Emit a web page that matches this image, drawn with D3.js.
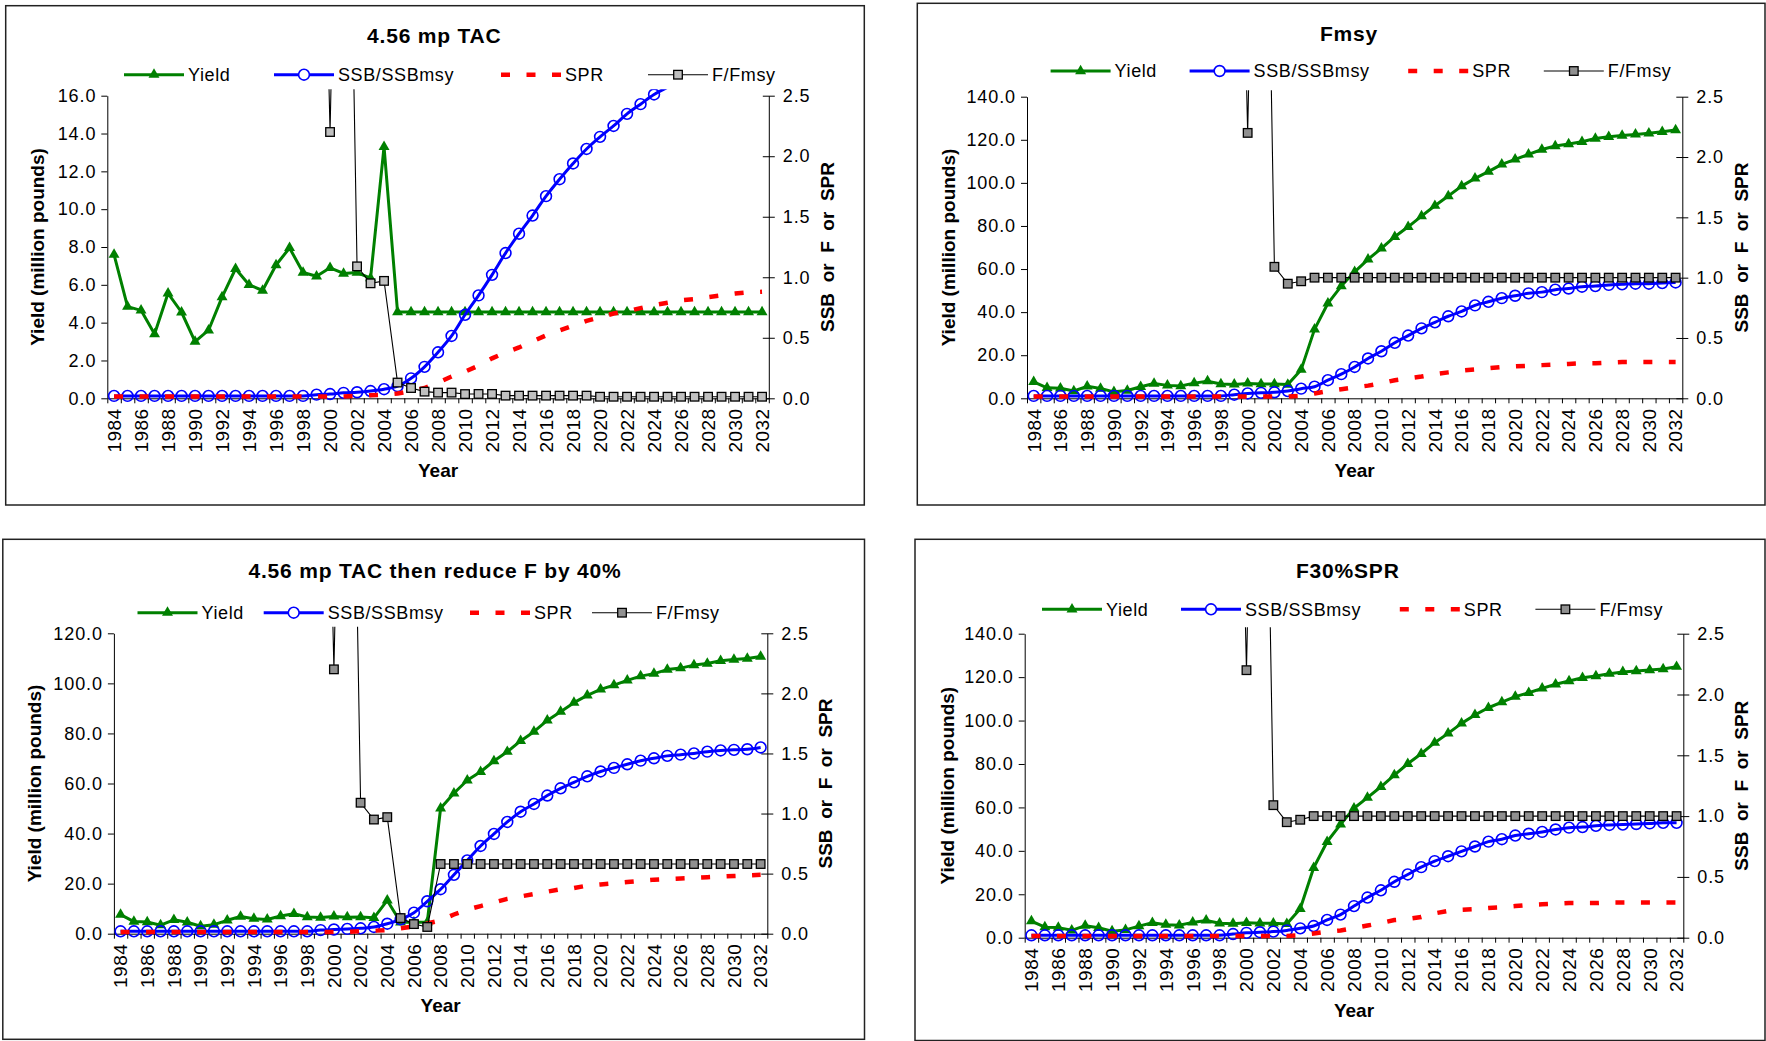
<!DOCTYPE html>
<html>
<head>
<meta charset="utf-8">
<script src="https://cdn.jsdelivr.net/npm/d3@7"></script>
<style>
  html, body { margin: 0; padding: 0; background: #fff; }
  svg { display: block; font-family: Arial, "Liberation Sans", sans-serif; }
</style>
</head>
<body>
<svg id="chart" width="1766" height="1041"></svg>
<script>
// ---------------- DATA ----------------
const years = [1984,1985,1986,1987,1988,1989,1990,1991,1992,1993,1994,1995,1996,1997,1998,1999,
  2000,2001,2002,2003,2004,2005,2006,2007,2008,2009,2010,2011,2012,2013,2014,2015,2016,2017,
  2018,2019,2020,2021,2022,2023,2024,2025,2026,2027,2028,2029,2030,2031,2032];

const seriesNames = ["Yield", "SSB/SSBmsy", "SPR", "F/Fmsy"];
const panelTitles = ["4.56 mp TAC", "Fmsy", "4.56 mp TAC then reduce F by 40%", "F30%SPR"];

// historical yield 1984-2004 (million pounds)
const yieldHist = [7.6,4.85,4.65,3.4,5.55,4.55,3.0,3.6,5.35,6.85,6.0,5.7,7.05,7.95,6.65,6.45,6.9,6.6,6.65,6.35,13.3];
// historical F/Fmsy 1984-2004 (values before 2000 and 2001 are far above the axis)
const fHist = [6.5,6.8,7.2,7.0,6.4,6.9,7.5,7.1,6.6,6.3,6.8,7.0,6.7,6.2,6.9,7.0,2.2,7.5,1.09,0.95,0.97];

// Panel 1: 4.56 mp TAC  (projection 2005-2032)
const yield1 = [4.56,4.56,4.56,4.56,4.56,4.56,4.56,4.56,4.56,4.56,4.56,4.56,4.56,4.56,4.56,4.56,4.56,4.56,4.56,4.56,4.56,4.56,4.56,4.56,4.56,4.56,4.56,4.56];
const ssb1 = [0.02,0.02,0.02,0.02,0.02,0.02,0.02,0.02,0.02,0.02,0.02,0.02,0.02,0.02,0.02,
  0.03,0.035,0.045,0.05,0.06,0.075,0.1,0.165,0.26,0.38,0.515,0.69,0.85,1.02,1.2,1.36,1.51,1.67,
  1.81,1.94,2.06,2.16,2.25,2.35,2.43,2.51,2.57,2.64,2.70,2.76,2.81,2.86,2.90,2.94];
const spr1 = [0.015,0.015,0.015,0.015,0.015,0.015,0.015,0.015,0.015,0.015,0.015,0.015,0.015,0.015,0.015,
  0.015,0.015,0.015,0.02,0.025,0.03,0.04,0.06,0.085,0.13,0.18,0.22,0.27,0.33,0.38,0.42,0.47,0.52,
  0.56,0.60,0.64,0.67,0.70,0.72,0.745,0.77,0.79,0.81,0.82,0.835,0.85,0.865,0.875,0.88];
const f1 = [0.13,0.085,0.055,0.047,0.047,0.035,0.036,0.036,0.022,0.022,0.022,0.022,0.022,0.022,0.022,
  0.013,0.013,0.013,0.013,0.013,0.013,0.013,0.013,0.013,0.013,0.013,0.013,0.013];

// Panel 2: Fmsy
const yield2 = [32.0,44.1,52.1,58.7,64.5,69.6,75.0,79.6,84.6,89.4,93.9,98.5,102.1,105.2,108.6,110.9,
  113.2,115.5,117.1,118.0,119.1,120.6,121.4,122.0,122.5,123.0,123.7,124.5];
const ssb2 = [0.02,0.02,0.02,0.02,0.02,0.02,0.02,0.02,0.02,0.02,0.02,0.02,0.02,0.02,0.02,
  0.03,0.04,0.045,0.05,0.06,0.08,0.096,0.15,0.2,0.26,0.33,0.39,0.46,0.52,0.58,0.63,0.68,0.72,
  0.77,0.8,0.83,0.85,0.87,0.88,0.9,0.91,0.925,0.93,0.94,0.945,0.95,0.95,0.955,0.96];
const spr2 = [0.015,0.015,0.015,0.015,0.015,0.015,0.015,0.015,0.015,0.015,0.015,0.015,0.015,0.015,0.015,
  0.015,0.015,0.015,0.015,0.015,0.02,0.04,0.06,0.075,0.09,0.105,0.125,0.15,0.165,0.18,0.2,0.215,0.23,
  0.24,0.25,0.26,0.265,0.27,0.275,0.28,0.285,0.29,0.29,0.295,0.3,0.3,0.3,0.3,0.3];
const f2 = [1.0,1.0,1.0,1.0,1.0,1.0,1.0,1.0,1.0,1.0,1.0,1.0,1.0,1.0,1.0,1.0,1.0,1.0,1.0,1.0,1.0,1.0,1.0,1.0,1.0,1.0,1.0,1.0];

// Panel 3: 4.56 mp TAC then reduce F by 40%
const yield3 = [4.56,4.56,4.56,50.1,56.1,61.3,64.7,69.0,72.7,77.0,80.7,85.2,88.7,92.3,95.2,97.6,
  99.3,101.2,102.9,103.9,105.5,106.1,107.3,107.9,109.0,109.5,109.9,110.7];
const ssb3 = [0.02,0.02,0.02,0.02,0.02,0.02,0.02,0.02,0.02,0.02,0.02,0.02,0.02,0.02,0.02,
  0.03,0.035,0.04,0.045,0.056,0.083,0.12,0.175,0.27,0.37,0.49,0.61,0.73,0.83,0.93,1.015,1.08,1.15,
  1.21,1.26,1.31,1.35,1.38,1.41,1.44,1.46,1.48,1.49,1.5,1.515,1.525,1.53,1.535,1.55];
const spr3 = [0.015,0.015,0.015,0.015,0.015,0.015,0.015,0.015,0.015,0.015,0.015,0.015,0.015,0.015,0.015,
  0.015,0.015,0.015,0.02,0.025,0.03,0.045,0.06,0.085,0.11,0.16,0.2,0.23,0.26,0.29,0.31,0.33,0.35,
  0.37,0.38,0.4,0.41,0.42,0.43,0.44,0.45,0.455,0.46,0.465,0.47,0.475,0.48,0.485,0.49];
const f3 = [0.13,0.08,0.056,0.58,0.58,0.58,0.58,0.58,0.58,0.58,0.58,0.58,0.58,0.58,0.58,0.58,0.58,
  0.58,0.58,0.58,0.58,0.58,0.58,0.58,0.58,0.58,0.58,0.58];

// Panel 4: F30%SPR
const yield4 = [32.2,44.2,52.2,59.6,64.5,69.5,74.9,80.1,84.7,89.8,94.1,98.7,102.6,105.9,108.5,111.0,
  112.8,114.8,116.7,118.2,119.7,120.5,121.6,122.4,122.8,123.3,123.7,124.8];
const ssb4 = [0.02,0.02,0.02,0.02,0.02,0.02,0.02,0.02,0.02,0.02,0.02,0.02,0.02,0.02,0.02,
  0.03,0.04,0.045,0.05,0.06,0.077,0.096,0.146,0.19,0.26,0.33,0.39,0.46,0.52,0.58,0.63,0.67,0.71,
  0.75,0.79,0.81,0.84,0.855,0.87,0.89,0.905,0.91,0.92,0.927,0.93,0.935,0.94,0.945,0.945];
const spr4 = [0.015,0.015,0.015,0.015,0.015,0.015,0.015,0.015,0.015,0.015,0.015,0.015,0.015,0.015,0.015,
  0.015,0.015,0.015,0.015,0.015,0.02,0.035,0.05,0.06,0.08,0.1,0.12,0.145,0.155,0.17,0.2,0.22,0.23,
  0.235,0.245,0.25,0.26,0.27,0.275,0.28,0.285,0.285,0.285,0.29,0.29,0.29,0.29,0.29,0.29];
const f4 = [1.0,1.0,1.0,1.0,1.0,1.0,1.0,1.0,1.0,1.0,1.0,1.0,1.0,1.0,1.0,1.0,1.0,1.0,1.0,1.0,1.0,1.0,1.0,1.0,1.0,1.0,1.0,1.0];

// axis tick values
const leftTicks16 = [0,2,4,6,8,10,12,14,16];
const leftTicks140 = [0,20,40,60,80,100,120,140];
const leftTicks120 = [0,20,40,60,80,100,120];
const rightTicks = [0,0.5,1.0,1.5,2.0,2.5];
const yearLabels = [1984,1986,1988,1990,1992,1994,1996,1998,2000,2002,2004,2006,2008,2010,2012,2014,
  2016,2018,2020,2022,2024,2026,2028,2030,2032];

// ---------------- LAYOUT ----------------
const panels = [
  { title: panelTitles[0], yld: yieldHist.concat(yield1), ssb: ssb1, spr: spr1, ff: fHist.concat(f1),
    lTicks: leftTicks16, sqFill: "#c0c0c0",
    box: [5.7, 5.7, 864.3, 505], plot: [107.3, 768.8, 95.7, 398.3],
    titleX: 434.3, titleY: 43.3, legY: 74.7, leg: [124, 274, 501, 648],
    yTitleX: 37, rTitleX: 826.7, yearY: 477 },
  { title: panelTitles[1], yld: yieldHist.concat(yield2), ssb: ssb2, spr: spr2, ff: fHist.concat(f2),
    lTicks: leftTicks140, sqFill: "#909090",
    box: [917.3, 3.3, 1765, 505], plot: [1027, 1682.3, 96.7, 398.3],
    titleX: 1349, titleY: 40.5, legY: 71, leg: [1050.6, 1189.6, 1408.2, 1543.8],
    yTitleX: 947.8, rTitleX: 1741.6, yearY: 477 },
  { title: panelTitles[2], yld: yieldHist.concat(yield3), ssb: ssb3, spr: spr3, ff: fHist.concat(f3),
    lTicks: leftTicks120, sqFill: "#909090",
    box: [2.8, 539.3, 864.5, 1039.3], plot: [113.9, 767.3, 633.3, 933.7],
    titleX: 435, titleY: 577.7, legY: 612.7, leg: [137.5, 263.7, 470, 592],
    yTitleX: 33.7, rTitleX: 825, yearY: 1012 },
  { title: panelTitles[3], yld: yieldHist.concat(yield4), ssb: ssb4, spr: spr4, ff: fHist.concat(f4),
    lTicks: leftTicks140, sqFill: "#909090",
    box: [915, 539.3, 1765, 1040.5], plot: [1024.7, 1683.3, 633.7, 937.7],
    titleX: 1347.8, titleY: 578, legY: 609.3, leg: [1042, 1181, 1399.8, 1535.4],
    yTitleX: 946.7, rTitleX: 1741.6, yearY: 1017 }
];

const GREEN = "#008000", BLUE = "#0000ff", RED = "#ff0000";
const svg = d3.select("#chart");
const fmt1 = d3.format(".1f");

panels.forEach((p, pi) => {
  const g = svg.append("g");
  const [bx0, by0, bx1, by1] = p.box;
  g.append("rect").attr("x", bx0).attr("y", by0).attr("width", bx1 - bx0).attr("height", by1 - by0)
    .attr("fill", "none").attr("stroke", "#222").attr("stroke-width", 1.5);

  const [x0, x1, yT, yB] = p.plot;
  const lMax = p.lTicks[p.lTicks.length - 1];
  const x = d3.scaleBand().domain(years).range([x0, x1]).padding(0);
  const xb = d3.scaleLinear().domain([0, years.length]).range([x0, x1]);
  const cx = d => x(d) + x.bandwidth() / 2;
  const yL = d3.scaleLinear().domain([0, lMax]).range([yB, yT]);
  const yR = d3.scaleLinear().domain([0, 2.5]).range([yB, yT]);

  // title
  g.append("text").attr("x", p.titleX).attr("y", p.titleY).attr("text-anchor", "middle")
    .attr("font-size", 21).attr("font-weight", "bold").attr("letter-spacing", 0.8).text(p.title);

  // left axis
  const la = g.append("g").attr("transform", `translate(${x0},0)`)
    .call(d3.axisLeft(yL).tickValues(p.lTicks).tickFormat(fmt1).tickSizeOuter(0).tickSizeInner(6).tickPadding(5));
  // right axis (crossing ticks)
  const ra = g.append("g").attr("transform", `translate(${x1},0)`)
    .call(d3.axisRight(yR).tickValues(rightTicks).tickFormat(fmt1).tickSizeOuter(0).tickSizeInner(6).tickPadding(8));
  ra.selectAll(".tick line").attr("x1", -6);
  // bottom axis: tick marks at category boundaries
  const ba = g.append("g").attr("transform", `translate(0,${yB})`)
    .call(d3.axisBottom(xb).tickValues(d3.range(years.length + 1)).tickFormat("").tickSizeOuter(0).tickSizeInner(5));
  // bottom labels
  const bl = g.append("g").attr("transform", `translate(0,${yB})`)
    .call(d3.axisBottom(x).tickValues(yearLabels).tickSize(0).tickPadding(0));
  bl.select(".domain").remove();
  bl.selectAll(".tick text").attr("transform", "rotate(-90)").attr("text-anchor", "end")
    .attr("x", -10).attr("y", 0).attr("dy", "0.36em").attr("font-size", 19).attr("letter-spacing", 0.5);

  [la, ra, ba].forEach(a => {
    a.select(".domain").attr("stroke", "#000").attr("stroke-width", 1);
    a.selectAll(".tick line").attr("stroke", "#000").attr("stroke-width", 1);
  });
  [la, ra].forEach(a => a.selectAll(".tick text").attr("font-size", 18).attr("letter-spacing", 0.9).attr("fill", "#000"));
  bl.selectAll(".tick text").attr("fill", "#000");

  // axis titles
  const ymid = (yT + yB) / 2;
  g.append("text").attr("transform", `translate(${p.yTitleX},${ymid}) rotate(-90)`).attr("text-anchor", "middle")
    .attr("dy", "0.36em").attr("font-size", 19).attr("font-weight", "bold").text("Yield (million pounds)");
  g.append("text").attr("transform", `translate(${p.rTitleX},${ymid}) rotate(-90)`).attr("text-anchor", "middle")
    .attr("dy", "0.36em").attr("font-size", 19).attr("font-weight", "bold").style("white-space", "pre")
    .text("SSB  or  F  or  SPR");
  g.append("text").attr("x", (x0 + x1) / 2).attr("y", p.yearY).attr("text-anchor", "middle")
    .attr("font-size", 19).attr("font-weight", "bold").text("Year");

  // clip
  const clipId = "clip" + pi;
  svg.append("clipPath").attr("id", clipId).append("rect")
    .attr("x", x0 - 10).attr("y", yT - 6.5).attr("width", x1 - x0 + 20).attr("height", yB - yT + 20);
  const pg = g.append("g").attr("clip-path", `url(#${clipId})`);

  const yldData = years.map((yr, i) => ({ yr, v: p.yld[i] }));
  const ssbData = years.map((yr, i) => ({ yr, v: p.ssb[i] }));
  const sprData = years.map((yr, i) => ({ yr, v: p.spr[i] }));
  const ffData = years.map((yr, i) => ({ yr, v: p.ff[i] }));

  // Yield
  pg.append("path").datum(yldData).attr("fill", "none").attr("stroke", GREEN).attr("stroke-width", 3)
    .attr("stroke-linejoin", "round")
    .attr("d", d3.line().x(d => cx(d.yr)).y(d => yL(d.v)));
  pg.selectAll(".tri").data(yldData.filter(d => d.v <= lMax * 1.01)).join("path")
    .attr("transform", d => `translate(${cx(d.yr)},${yL(d.v)})`)
    .attr("d", d3.symbol(d3.symbolTriangle, 52)).attr("fill", GREEN);

  // SSB
  pg.append("path").datum(ssbData).attr("fill", "none").attr("stroke", BLUE).attr("stroke-width", 3)
    .attr("d", d3.line().curve(d3.curveCatmullRom.alpha(0.5)).x(d => cx(d.yr)).y(d => yR(d.v)));
  pg.selectAll(".circ").data(ssbData.filter(d => d.v <= 2.52)).join("circle")
    .attr("cx", d => cx(d.yr)).attr("cy", d => yR(d.v)).attr("r", 5.4)
    .attr("fill", "none").attr("stroke", BLUE).attr("stroke-width", 1.6);

  // SPR
  pg.append("path").datum(sprData).attr("fill", "none").attr("stroke", RED).attr("stroke-width", 4.5)
    .attr("stroke-dasharray", "9,16.5")
    .attr("d", d3.line().x(d => cx(d.yr)).y(d => yR(d.v)));

  // F/Fmsy
  pg.append("path").datum(ffData).attr("fill", "none").attr("stroke", "#000").attr("stroke-width", 1.1)
    .attr("d", d3.line().x(d => cx(d.yr)).y(d => yR(d.v)));
  pg.selectAll(".sq").data(ffData.filter(d => d.v <= 2.52)).join("rect")
    .attr("x", d => cx(d.yr) - 4.3).attr("y", d => yR(d.v) - 4.3).attr("width", 8.6).attr("height", 8.6)
    .attr("fill", p.sqFill).attr("stroke", "#000").attr("stroke-width", 1.3);

  // legend
  const ly = p.legY;
  const lg = g.append("g");
  const L = 60;
  p.leg.forEach((lx, k) => {
    if (k === 0) {
      lg.append("line").attr("x1", lx).attr("x2", lx + L).attr("y1", ly).attr("y2", ly).attr("stroke", GREEN).attr("stroke-width", 3);
      lg.append("path").attr("transform", `translate(${lx + L / 2},${ly})`).attr("d", d3.symbol(d3.symbolTriangle, 52)).attr("fill", GREEN);
    } else if (k === 1) {
      lg.append("line").attr("x1", lx).attr("x2", lx + L).attr("y1", ly).attr("y2", ly).attr("stroke", BLUE).attr("stroke-width", 3);
      lg.append("circle").attr("cx", lx + L / 2).attr("cy", ly).attr("r", 5.4).attr("fill", "#fff").attr("stroke", BLUE).attr("stroke-width", 1.6);
    } else if (k === 2) {
      lg.append("line").attr("x1", lx).attr("x2", lx + L).attr("y1", ly).attr("y2", ly).attr("stroke", RED).attr("stroke-width", 4.5).attr("stroke-dasharray", "9,16.5");
    } else {
      lg.append("line").attr("x1", lx).attr("x2", lx + L).attr("y1", ly).attr("y2", ly).attr("stroke", "#000").attr("stroke-width", 1.1);
      lg.append("rect").attr("x", lx + L / 2 - 4.3).attr("y", ly - 4.3).attr("width", 8.6).attr("height", 8.6)
        .attr("fill", p.sqFill).attr("stroke", "#000").attr("stroke-width", 1.3);
    }
    lg.append("text").attr("x", lx + L + 4).attr("y", ly).attr("dy", "0.36em").attr("font-size", 18)
      .attr("letter-spacing", 0.6).text(seriesNames[k]);
  });
});
</script>
</body>
</html>
